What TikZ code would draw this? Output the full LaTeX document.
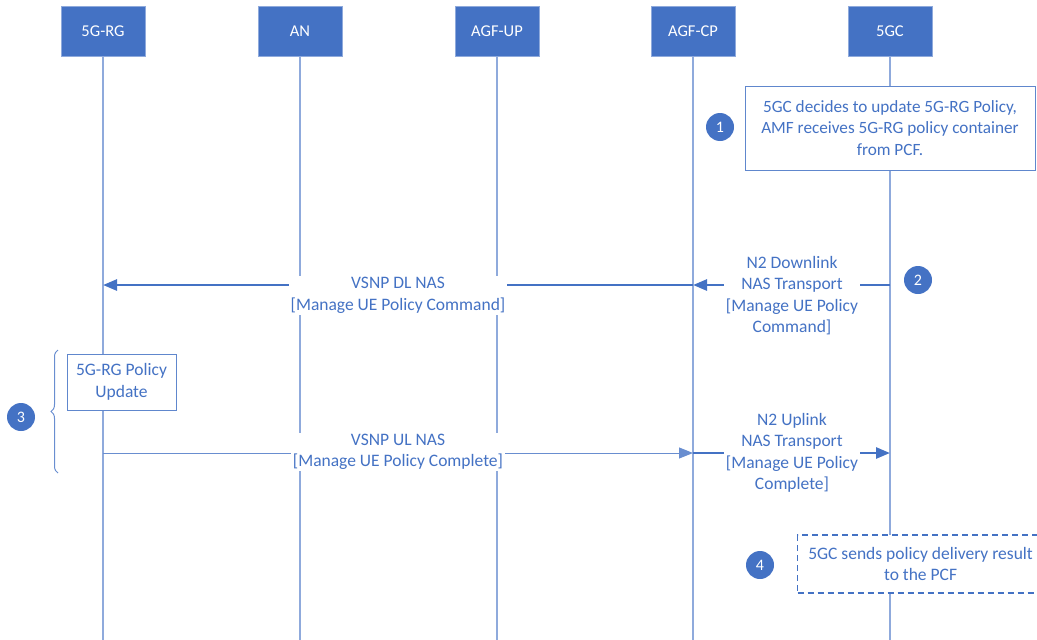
\documentclass[tikz,border=0pt]{standalone}
\usepackage{fontspec}
\setmainfont{Carlito}
\usetikzlibrary{arrows.meta,decorations.pathreplacing}
\definecolor{mblue}{HTML}{4472C4}
\definecolor{lblue}{HTML}{8FAADC}
\tikzset{
  hdr/.style={draw=lblue, line width=0.8pt, fill=mblue, text=white, minimum width=84pt, minimum height=50pt, font=\fontsize{16.5}{18}\selectfont, inner sep=0pt},
  life/.style={draw=lblue, line width=1.4pt},
  num/.style={circle, fill=mblue, text=white, minimum size=28pt, inner sep=0pt, font=\fontsize{16}{18}\selectfont},
  lbl/.style={fill=white, text=mblue, align=center, inner sep=1.5pt, font=\fontsize{17.5}{21.5}\selectfont},
  note/.style={draw=mblue!85, line width=0.9pt, fill=white, text=mblue, align=center, font=\fontsize{17.5}{21.5}\selectfont},
  thick msg/.style={draw=mblue, line width=2.6pt, -{Triangle[length=14pt,width=11pt]}},
  thin msg/.style={draw=mblue!80, line width=1pt, -{Triangle[length=14pt,width=11pt]}},
}
\begin{document}
\begin{tikzpicture}[x=1pt,y=-1pt]
\useasboundingbox (0,0) rectangle (1037,640);
% headers
\node[hdr] (rg) at (103,31) {5G-RG};
\node[hdr] (an) at (300,31) {AN};
\node[hdr] (up) at (497,31) {AGF-UP};
\node[hdr] (cp) at (693,31) {AGF-CP};
\node[hdr] (gc) at (890,31) {5GC};
% lifeline ends
\coordinate (rgE) at (103,640);
\coordinate (anE) at (300,640);
\coordinate (upE) at (497,640);
\coordinate (cpE) at (693,640);
\coordinate (gcE) at (890,640);
\draw[life] (rg.south) -- (rgE);
\draw[life] (an.south) -- (anE);
\draw[life] (up.south) -- (upE);
\draw[life] (cp.south) -- (cpE);
\draw[life] (gc.south) -- (gcE);
% step 1
\node[note, minimum width=290pt, minimum height=84pt, font=\fontsize{17.2}{21.5}\selectfont] (n1) at (890,128) {5GC decides to update 5G-RG Policy,\\AMF receives 5G-RG policy container\\from PCF.};
\node[num] (c1) at (720,127) {1};
% step 2
\coordinate (gc2) at (890,285);
\coordinate (cp2) at (693,285);
\coordinate (rg2) at (103,285);
\draw[thick msg] (gc2) -- (cp2);
\draw[thick msg] (cp2) -- (rg2);
\node[lbl] (l2a) at (792,295.5) {N2 Downlink\\NAS Transport\\{[Manage UE Policy}\\Command]};
\node[lbl] (l2b) at (398,295.5) {VSNP DL NAS\\{[Manage UE Policy Command]}};
\node[num] (c2) at (918,280) {2};
% step 3
\node[note, minimum width=109pt, minimum height=56pt, inner sep=2pt] (n3) at (121.5,382) {5G-RG Policy\\Update};
\draw[mblue!80, line width=1pt, decorate, decoration={brace, amplitude=7pt}] (58,473) -- (58,350);
\node[num] (c3) at (21,417) {3};
\coordinate (rg3) at (103,453);
\coordinate (cp3) at (693,453);
\coordinate (gc3) at (890,453);
\draw[thin msg] (rg3) -- (cp3);
\draw[thick msg] (cp3) -- (gc3);
\node[lbl] (l3a) at (792,453) {N2 Uplink\\NAS Transport\\{[Manage UE Policy}\\Complete]};
\node[lbl] (l3b) at (398,452) {VSNP UL NAS\\{[Manage UE Policy Complete]}};
% step 4
\node[note, draw=mblue, line width=1.1pt, dash pattern=on 6pt off 4pt, minimum width=246pt, minimum height=58pt, anchor=west] (n4) at (797,564) {5GC sends policy delivery result\\to the PCF};
\node[num] (c4) at (760,565) {4};
\end{tikzpicture}
\end{document}
